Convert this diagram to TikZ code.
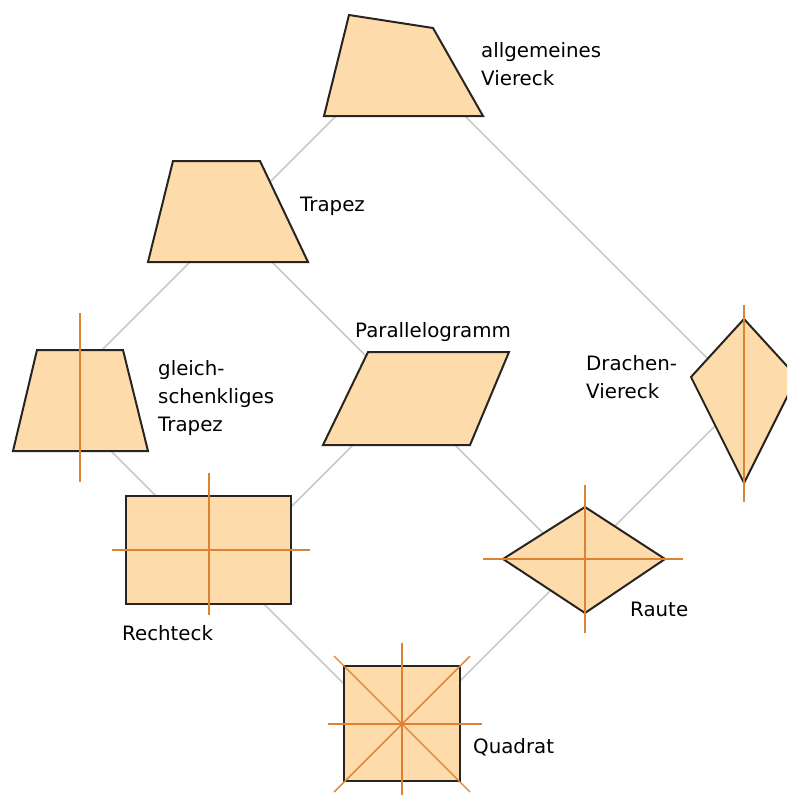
\documentclass[tikz,border=0pt]{standalone}
\usepackage{fontspec}
\setmainfont{DejaVu Sans}
\definecolor{peach}{RGB}{254,219,170}
\definecolor{axisc}{RGB}{220,130,50}
\definecolor{linkc}{RGB}{200,200,200}
\definecolor{edgec}{RGB}{40,36,32}
\tikzset{
  shp/.style={fill=peach, draw=edgec, line width=2pt, line join=miter},
  axe/.style={draw=axisc, line width=1.4pt},
  link/.style={draw=linkc, line width=1.5pt},
  lbl/.style={font=\fontsize{19.8}{28}\selectfont, inner sep=0pt, align=left, text=black},
}

\begin{document}
\begin{tikzpicture}[x=1pt, y=-1pt]
\useasboundingbox (0,0) rectangle (787,795);
\clip (0,0) rectangle (787,795);
% lattice centres
\coordinate (vier) at (400.5,51.5);
\coordinate (trap) at (231,221);
\coordinate (gtrap) at (56,396);
\coordinate (para) at (404,394);
\coordinate (drach) at (745,396);
\coordinate (recht) at (229,569);
\coordinate (raute) at (575.5,565.5);
\coordinate (quad) at (400.5,740.5);
\draw[link] (vier) -- (trap); \draw[link] (vier) -- (drach);
\draw[link] (trap) -- (gtrap); \draw[link] (trap) -- (para);
\draw[link] (gtrap) -- (recht); \draw[link] (para) -- (recht);
\draw[link] (para) -- (raute); \draw[link] (drach) -- (raute);
\draw[link] (recht) -- (quad); \draw[link] (raute) -- (quad);
% shapes
\filldraw[shp] (349,15) -- (433,28) -- (483,116) -- (324,116) -- cycle;
\filldraw[shp] (173,161) -- (260,161) -- (308,262) -- (148,262) -- cycle;
\filldraw[shp] (37,350) -- (123,350) -- (148,451) -- (13,451) -- cycle;
\draw[axe] (80,313) -- (80,482);
\filldraw[shp] (368,352) -- (509,352) -- (470,445) -- (323,445) -- cycle;
\filldraw[shp] (744,319) -- (797,377) -- (744,483) -- (691,377) -- cycle;
\draw[axe] (744,305) -- (744,502);
\filldraw[shp] (126,496) rectangle (291,604);
\draw[axe] (209,473) -- (209,615); \draw[axe] (112,550) -- (310,550);
\filldraw[shp] (503,559) -- (585,507) -- (665,559) -- (585,613) -- cycle;
\draw[axe] (483,559) -- (683,559); \draw[axe] (585,485) -- (585,633);
\filldraw[shp] (344,666) rectangle (460,781);
\draw[axe] (402,643) -- (402,805); \draw[axe] (328,724) -- (482,724);
\draw[axe] (334,656) -- (470,792); \draw[axe] (470,656) -- (334,792);
% labels
\node[lbl, anchor=north west] (lvier) at (481,42) {allgemeines\\Viereck};
\node[lbl, anchor=base west] (ltrap) at (300,211) {Trapez};
\node[lbl, anchor=north west] (lgtrap) at (158,360) {gleich-\\schenkliges\\Trapez};
\node[lbl, anchor=base west] (lpara) at (355,337) {Parallelogramm};
\node[lbl, anchor=north west] (ldrach) at (586,355) {Drachen-\\Viereck};
\node[lbl, anchor=base west] (lrecht) at (122,640) {Rechteck};
\node[lbl, anchor=base west] (lraute) at (630,616) {Raute};
\node[lbl, anchor=base west] (lquad) at (473,753) {Quadrat};
\end{tikzpicture}
\end{document}
